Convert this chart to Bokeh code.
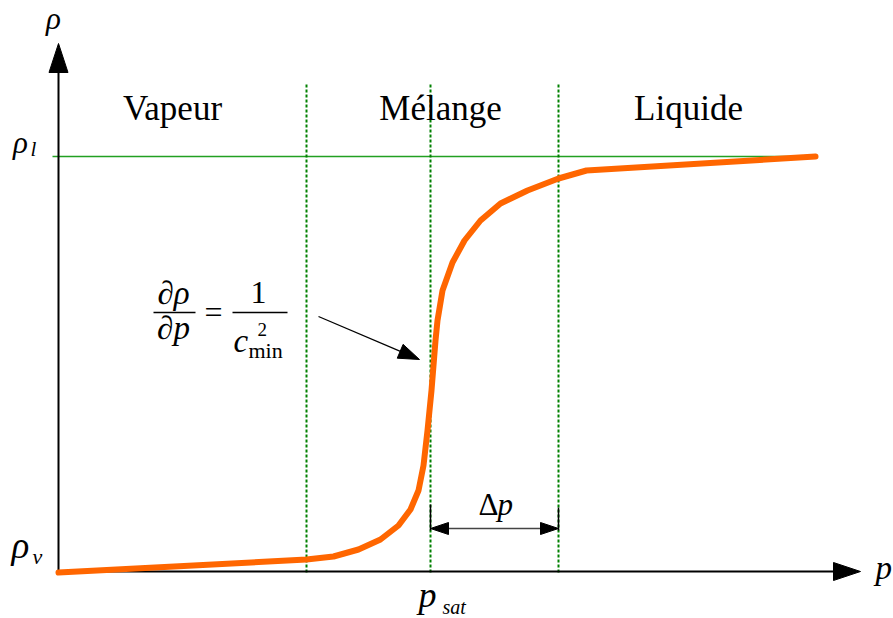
from bokeh.plotting import figure
from bokeh.models import Range1d
from bokeh.core.properties import value
from bokeh.embed import file_html
from bokeh.resources import INLINE

# Density as a function of pressure across the phase change (arbitrary units)
pressure = [0, 248, 275, 300, 322, 340, 352, 360, 365, 369, 373, 377, 379,
            384, 394, 406, 422, 442, 469, 500, 528, 757]
density = [-1, 12, 15, 22, 32, 46, 62, 81, 106, 141, 181, 231, 251,
           281, 309, 331, 351, 368, 381, 393, 401, 415]

# Characteristic levels
p_sat = 372
p_mix_start = 248
p_mix_end = 500
rho_l = 415
rho_v = 0
p_axis_end = 802
rho_axis_end = 528

region_names = ["Vapeur", "M\u00e9lange", "Liquide"]
region_label_x = [114, 382, 630]
region_label_y = 453

SERIF = value("Liberation Serif")

p = figure(width=893, height=618, output_backend="svg", toolbar_location=None,
           x_range=Range1d(-58, 835), y_range=Range1d(-47, 571),
           x_axis_type=None, y_axis_type=None, min_border=0)
p.grid.visible = False
p.outline_line_color = None
p.background_fill_color = "white"
p.border_fill_color = "white"


def head(tx, ty, dx, dy, length, width):
    """Filled triangle with its tip at (tx, ty) pointing along (dx, dy)."""
    n = (dx * dx + dy * dy) ** 0.5
    ux, uy = dx / n, dy / n
    bx, by = tx - ux * length, ty - uy * length
    px, py = -uy * width / 2, ux * width / 2
    return [tx, bx + px, bx - px], [ty, by + py, by - py]


def label(x, y, s, size, style="normal", align="left"):
    # y is the baseline; the renderer sets glyphs a little low, so lift them
    p.text(x=[x], y=[y + 0.3 * size], text=[s], text_font=SERIF,
           text_font_size=f"{size}px", text_font_style=style, text_align=align,
           text_baseline="alphabetic", text_color="black")


# Saturated liquid density level
p.line([-6, pressure[-1]], [rho_l, rho_l], line_color="#22a022", line_width=1.4)

# Boundaries of the mixture zone and the saturation pressure
for xv in [p_mix_start, p_sat, p_mix_end]:
    p.line([xv, xv], [density[0], 488], line_color="#008000", line_width=2,
           line_dash="3 2")

# Axes with arrow heads
p.line([0, 0], [rho_v, rho_axis_end - 10], line_color="black", line_width=2)
p.line([0, p_axis_end - 10], [rho_v, rho_v], line_color="black", line_width=2)
hx, hy = head(0, rho_axis_end, 0, 1, 29, 19)
p.patch(hx, hy, fill_color="black", line_color="black")
hx, hy = head(p_axis_end, rho_v, 1, 0, 27, 18)
p.patch(hx, hy, fill_color="black", line_color="black")

# Density curve
p.line(pressure, density, line_color="#ff6600", line_width=6,
       line_join="round", line_cap="round")

# Delta p span
dp_y = 43
p.line([p_sat, p_sat], [41, 67], line_color="black", line_width=1.5)
p.line([p_mix_end, p_mix_end], [41, 64], line_color="black", line_width=1.5)
p.line([p_sat + 10, p_mix_end - 10], [dp_y, dp_y], line_color="#444444", line_width=1.5)
hx, hy = head(p_sat, dp_y, -1, 0, 18, 12)
p.patch(hx, hy, fill_color="black", line_color="black")
hx, hy = head(p_mix_end, dp_y, 1, 0, 18, 12)
p.patch(hx, hy, fill_color="black", line_color="black")
label(420, 58, "\u0394", 31)
label(439, 58, "p", 31, "italic")

# Pointer to the steepest slope
ax0, ay0, ax1, ay1 = 260, 255, 361, 212
p.line([ax0, ax1 - 15], [ay0, ay1 + 6.4], line_color="black", line_width=1.3)
hx, hy = head(ax1, ay1, ax1 - ax0, ay1 - ay0, 21, 15)
p.patch(hx, hy, fill_color="black", line_color="black")

# Slope formula
label(115, 269, "\u2202\u03c1", 33, "italic", "center")
label(115, 234, "\u2202p", 33, "italic", "center")
p.line([95, 137], [259, 259], line_color="black", line_width=1.5)
label(155, 250, "=", 32, "normal", "center")
p.line([174, 229], [259, 259], line_color="black", line_width=1.5)
label(200, 269, "1", 32, "normal", "center")
label(175, 221, "c", 33, "italic")
label(199, 236, "2", 19)
label(190, 214, "min", 22)

# Phase regions
for name, xv in zip(region_names, region_label_x):
    label(xv, region_label_y, name, 35, "normal", "center")

# Axis labels
label(-5, 544, "\u03c1", 31, "italic", "center")
label(-38, 420, "\u03c1", 31, "italic", "center")
label(-28, 416, "l", 21, "italic")
label(-38, 15, "\u03c1", 37, "italic", "center")
label(-26, 8, "v", 22, "italic")
label(817, -6, "p", 33, "italic")
label(360, -34, "p", 36, "italic")
label(384, -41, "sat", 20, "italic")

open("out.html", "w").write(file_html(p, INLINE))
